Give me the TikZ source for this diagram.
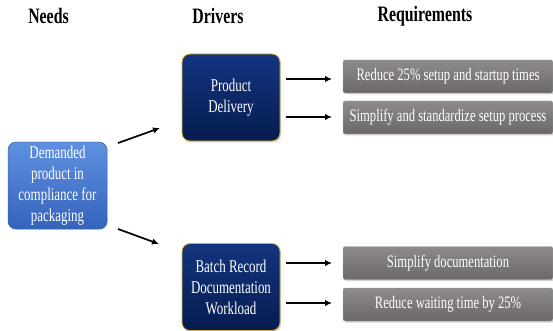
\documentclass[tikz,border=0pt]{standalone}
\usepackage{fontspec}
\setmainfont[FakeStretch=0.72]{Liberation Serif}
\usetikzlibrary{shadows,arrows.meta}
\begin{document}
\begin{tikzpicture}[x=1pt,y=-1pt,
  header/.style={font=\fontsize{22}{24}\selectfont\bfseries, text=black},
  needbox/.style={draw=blueB!80!black, rounded corners=8pt, top color=blueA, bottom color=blueB,
    text=white, align=center, font=\fontsize{18}{21}\selectfont, minimum width=99pt, minimum height=87pt, inner sep=0pt,
    drop shadow={opacity=0.3, shadow xshift=1pt, shadow yshift=-1pt}},
  drvbox/.style={draw=brown!60!yellow, line width=0.8pt, rounded corners=8pt, top color=navyA, bottom color=navyB,
    text=white, align=center, font=\fontsize{18}{21}\selectfont, minimum width=98pt, minimum height=87pt, inner sep=0pt,
    drop shadow={opacity=0.35, shadow xshift=1pt, shadow yshift=-1.5pt}},
  reqbox/.style={draw=gray!70, rounded corners=2pt, top color=grayA, bottom color=grayB,
    text=white, align=center, font=\fontsize{17.5}{19}\selectfont, minimum width=210pt, minimum height=33pt, inner sep=0pt,
    drop shadow={opacity=0.35, shadow xshift=1.5pt, shadow yshift=-1.5pt}},
  arr/.style={-{Latex[length=7pt,width=6.5pt]}, line width=1.7pt, black}
]
\definecolor{navyA}{HTML}{12357F}
\definecolor{navyB}{HTML}{061C50}
\definecolor{grayA}{HTML}{8E8A8A}
\definecolor{grayB}{HTML}{6C6868}
\definecolor{blueA}{HTML}{5F90E0}
\definecolor{blueB}{HTML}{3563BC}
\useasboundingbox (0,0) rectangle (553,331);

\node[header] (h1) at (48.5,16) {Needs};
\node[header] (h2) at (218,16) {Drivers};
\node[header] (h3) at (425,16) {Requirements};

\node[needbox] (need) at (57.5,185.5) {Demanded\\product in\\compliance for\\packaging};

\node[drvbox] (pd) at (231,97.5) {Product\\Delivery};
\node[drvbox] (br) at (231,287) {Batch Record\\Documentation\\Workload};

\node[reqbox] (r1) at (448,76.5) {Reduce 25\% setup and startup times};
\node[reqbox] (r2) at (448,117.5) {Simplify and standardize setup process};
\node[reqbox] (r3) at (448,263) {Simplify documentation};
\node[reqbox] (r4) at (448,304.5) {Reduce waiting time by 25\%};

\coordinate (a1s) at (118,143);
\coordinate (a1e) at (160,128);
\coordinate (a2s) at (118,229);
\coordinate (a2e) at (159,244);
\draw[arr] (a1s) -- (a1e);
\draw[arr] (a2s) -- (a2e);

\coordinate (b1s) at (286,79);  \coordinate (b1e) at (332,79);
\coordinate (b2s) at (286,117); \coordinate (b2e) at (332,117);
\coordinate (b3s) at (286,263); \coordinate (b3e) at (332,263);
\coordinate (b4s) at (286,303); \coordinate (b4e) at (332,303);
\draw[arr] (b1s) -- (b1e);
\draw[arr] (b2s) -- (b2e);
\draw[arr] (b3s) -- (b3e);
\draw[arr] (b4s) -- (b4e);
\end{tikzpicture}
\end{document}
